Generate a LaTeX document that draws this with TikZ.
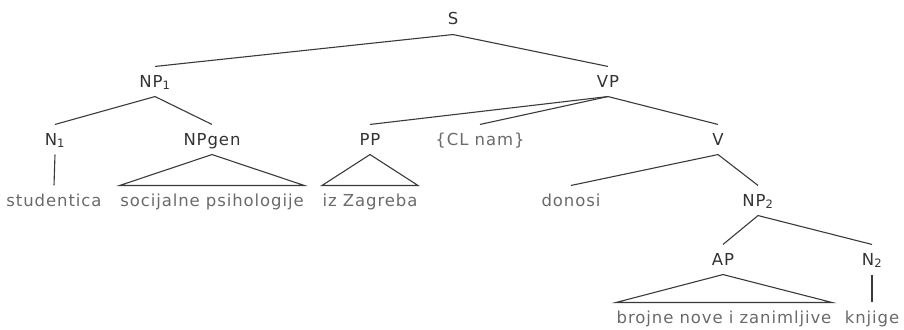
\documentclass[tikz,border=0pt]{standalone}
\usepackage{fontspec}
\setmainfont{DejaVu Sans}[LetterSpace=5.5]
\usepackage{tikz}
\definecolor{labelgray}{HTML}{333333}
\definecolor{leafgray}{HTML}{6A6A6A}
\definecolor{linegray}{HTML}{3A3A3A}

\begin{document}
\begin{tikzpicture}[x=1pt,y=-1pt
	,every node/.style={anchor=base,inner xsep=0pt,inner ysep=6pt
		,text height=14pt,text depth=3pt,font=\fontsize{16.5}{19}\selectfont}
	,cat/.style={text=labelgray}
	,leaf/.style={text=leafgray}
	,line width=1.1pt,draw=linegray]
  \useasboundingbox (0,0) rectangle (904,329);

  % categories, top down
  \node[cat] (s)     at (453,25)  {S};
  \node[cat] (np1)   at (155,87)  {NP\textsubscript{1}};
  \node[cat] (vp)    at (608,87)  {VP};
  \node[cat] (n1)    at (55,145)  {N\textsubscript{1}};
  \node[cat] (npgen) at (212,145) {NPgen};
  \node[cat] (pp)    at (370,145) {PP};
  \node[leaf] (cl)   at (480,145) {\{CL nam\}};
  \node[cat] (v)     at (718,145) {V};
  \node[cat] (np2)   at (758,206) {NP\textsubscript{2}};
  \node[cat] (ap)    at (723,265) {AP};
  \node[cat] (n2)    at (872,265) {N\textsubscript{2}};

  % words
  \node[leaf] (stud)   at (54,206)  {studentica};
  \node[leaf] (socpsi) at (212,206) {socijalne psihologije};
  \node[leaf] (izzag)  at (370,206) {iz Zagreba};
  \node[leaf] (donosi) at (571,206) {donosi};
  \node[leaf] (brojne) at (724,323) {brojne nove i zanimljive};
  \node[leaf] (knjige) at (872,323) {knjige};

  \path[draw=linegray]
 	(s.south) edge (np1.north)
 	(s.south) edge (vp.north)
 	(np1.south) edge (n1.north)
 	(np1.south) edge (npgen.north)
 	(vp.south) edge (pp.north)
 	(vp.south) edge (cl.north)
 	(vp.south) edge (v.north)
 	(v.south) edge (donosi.north)
 	(v.south) edge (np2.north)
 	(np2.south) edge (ap.north)
 	(np2.south) edge (n2.north)
 	(n1.south) edge (stud.north)
 	(n2.south) edge (knjige.north);

  % roofs over unanalysed phrases
  \draw[linegray] (npgen.south) -- (socpsi.north west) -- (socpsi.north east) -- cycle;
  \draw[linegray] (pp.south) -- (izzag.north west) -- (izzag.north east) -- cycle;
  \draw[linegray] (ap.south) -- (brojne.north west) -- (brojne.north east) -- cycle;
\end{tikzpicture}
\end{document}
